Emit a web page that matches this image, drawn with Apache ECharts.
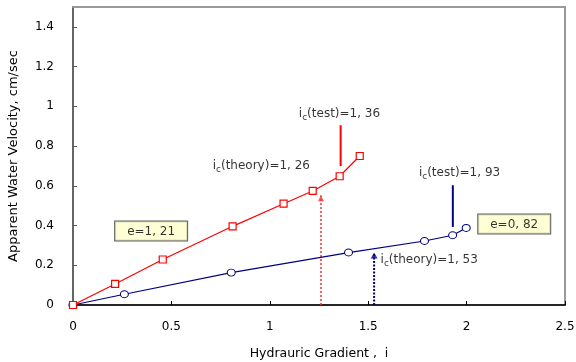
<!DOCTYPE html>
<html>
<head>
<meta charset="utf-8">
<script src="https://cdn.jsdelivr.net/npm/echarts@6/dist/echarts.min.js"></script>
<style>
  html, body { margin: 0; padding: 0; background: #fff; }
  #chart { width: 576px; height: 362px; }
</style>
</head>
<body>
<div id="chart"></div>
<script>
// Specimen with void ratio e = 1.21 (square markers)
const voidRatioA = 1.21;
const gradientA = [0, 0.214, 0.456, 0.811, 1.07, 1.218, 1.355, 1.457];
const velocityA = [0, 0.106, 0.229, 0.396, 0.51, 0.574, 0.648, 0.750];

// Specimen with void ratio e = 0.82 (circle markers)
const voidRatioB = 0.82;
const gradientB = [0, 0.261, 0.804, 1.40, 1.786, 1.929, 1.998];
const velocityB = [0, 0.054, 0.163, 0.264, 0.322, 0.351, 0.388];

// Critical gradients: theoretical (dotted arrow) and measured (solid bar)
const icTheory = [1.26, 1.53];
const icTheoryArrowTop = [0.552, 0.264];
const icTest = [1.36, 1.93];
const icTestBarFrom = [0.699, 0.393];
const icTestBarTo = [0.905, 0.603];

// Axis ticks
const xTicks = [0, 0.5, 1, 1.5, 2, 2.5];
const yTicks = [0, 0.2, 0.4, 0.6, 0.8, 1, 1.2, 1.4];

// Where the text annotations sit, in data units [gradient, velocity]
const anchorTheoryA = [0.957, 0.698];
const anchorTestA = [1.354, 0.96];
const anchorTheoryB = [1.81, 0.225];
const anchorTestB = [1.964, 0.663];
const anchorBoxA = [0.397, 0.373];
const anchorBoxB = [2.242, 0.408];

const RED = '#ff0000';
const NAVY = '#000080';
const FONT = 'DejaVu Sans';

const zip = (xs, ys) => xs.map((x, i) => [x, ys[i]]);
const commaNum = v => String(v).replace('.', ', ');

const richText = {
  m: { fontSize: 12, lineHeight: 16, color: '#000', fontFamily: FONT },
  s: { fontSize: 9, lineHeight: 10, verticalAlign: 'bottom', color: '#000', fontFamily: FONT }
};

function textSeries(anchor, formatter, extra) {
  return {
    type: 'scatter',
    data: [anchor],
    symbolSize: 1,
    itemStyle: { color: 'rgba(0,0,0,0)' },
    silent: true,
    z: 10,
    label: Object.assign({
      show: true,
      position: 'inside',
      formatter: formatter,
      rich: richText,
      color: '#000',
      fontFamily: FONT,
      fontSize: 12
    }, extra || {})
  };
}

function boxSeries(anchor, text) {
  return textSeries(anchor, text, {
    backgroundColor: '#ffffcc',
    borderColor: '#333',
    borderWidth: 1,
    padding: [3, 12, 2, 12],
    lineHeight: 14
  });
}

function arrowSeries(x, top, color, width, dash, triSize) {
  return [{
    type: 'line',
    data: [[x, 0], [x, top]],
    symbol: 'none',
    lineStyle: { color: color, width: width, type: dash },
    silent: true,
    z: 3
  }, {
    type: 'scatter',
    data: [[x, top]],
    symbol: 'triangle',
    symbolSize: triSize,
    symbolOffset: [0, '50%'],
    itemStyle: { color: color },
    silent: true,
    z: 4
  }];
}

function barSeries(x, from, to, color) {
  return {
    type: 'line',
    data: [[x, from], [x, to]],
    symbol: 'none',
    lineStyle: { color: color, width: 2 },
    silent: true,
    z: 3
  };
}

const chart = echarts.init(document.getElementById('chart'));

chart.setOption({
  animation: false,
  backgroundColor: '#fff',
  grid: {
    left: 73, right: 11, top: 7, bottom: 57,
    containLabel: false,
    outerBoundsMode: 'none',
    show: true,
    borderColor: '#999',
    borderWidth: 2,
    backgroundColor: '#fff'
  },
  xAxis: [{
    type: 'value',
    min: xTicks[0],
    max: xTicks[xTicks.length - 1],
    interval: xTicks[1] - xTicks[0],
    name: 'Hydrauric Gradient ,  i',
    nameLocation: 'middle',
    nameGap: 42,
    nameTextStyle: { color: '#000', fontSize: 12.5, fontFamily: FONT },
    axisLine: { lineStyle: { color: '#000', width: 1.5 } },
    axisTick: { inside: true, length: 4, lineStyle: { color: '#000' } },
    axisLabel: { color: '#000', fontSize: 12, fontFamily: FONT, margin: 16 },
    splitLine: { show: false }
  }, {
    // plain frame line along the top of the plot
    type: 'value',
    position: 'top',
    min: xTicks[0],
    max: xTicks[xTicks.length - 1],
    axisLine: { show: true, lineStyle: { color: '#999', width: 2 } },
    axisTick: { show: false },
    axisLabel: { show: false },
    splitLine: { show: false }
  }],
  yAxis: {
    type: 'value',
    min: 0,
    max: 1.5,
    interval: yTicks[1] - yTicks[0],
    name: 'Apparent Water Velocity, cm/sec',
    nameLocation: 'middle',
    nameGap: 53,
    nameTextStyle: { color: '#000', fontSize: 13, fontFamily: FONT },
    axisLine: { lineStyle: { color: '#555', width: 1.5 } },
    axisTick: { inside: true, length: 4, lineStyle: { color: '#555' } },
    axisLabel: {
      color: '#000', fontSize: 12, fontFamily: FONT, margin: 19,
      showMaxLabel: false,
      formatter: v => (yTicks.some(t => Math.abs(t - v) < 1e-9) ? String(+v.toFixed(1)) : '')
    },
    splitLine: { show: false }
  },
  series: [
    ...arrowSeries(icTheory[0], icTheoryArrowTop[0], '#ff3030', 1.5, [2, 2], [6, 6]),
    ...arrowSeries(icTheory[1], icTheoryArrowTop[1], NAVY, 2, [2, 1.5], [7, 6]),
    barSeries(icTest[0], icTestBarFrom[0], icTestBarTo[0], RED),
    barSeries(icTest[1], icTestBarFrom[1], icTestBarTo[1], NAVY),
    {
      name: 'e=' + commaNum(voidRatioB),
      type: 'line',
      data: zip(gradientB, velocityB),
      symbol: 'circle',
      symbolSize: [8, 7],
      showAllSymbol: true,
      lineStyle: { color: NAVY, width: 1.2 },
      itemStyle: { color: '#fff', borderColor: NAVY, borderWidth: 1 },
      z: 5
    },
    {
      name: 'e=' + commaNum(voidRatioA),
      type: 'line',
      data: zip(gradientA, velocityA),
      symbol: 'rect',
      symbolSize: 7,
      showAllSymbol: true,
      lineStyle: { color: RED, width: 1.2 },
      itemStyle: { color: '#fff', borderColor: RED, borderWidth: 1.2 },
      z: 6
    },
    textSeries(anchorTheoryA, '{m|i}{s|c}{m|(theory)=' + commaNum(icTheory[0]) + '}'),
    textSeries(anchorTestA, '{m|i}{s|c}{m|(test)=' + commaNum(icTest[0]) + '}'),
    textSeries(anchorTheoryB, '{m|i}{s|c}{m|(theory)=' + commaNum(icTheory[1]) + '}'),
    textSeries(anchorTestB, '{m|i}{s|c}{m|(test)=' + commaNum(icTest[1]) + '}'),
    boxSeries(anchorBoxA, 'e=' + commaNum(voidRatioA)),
    boxSeries(anchorBoxB, 'e=' + commaNum(voidRatioB))
  ]
});
</script>
</body>
</html>
